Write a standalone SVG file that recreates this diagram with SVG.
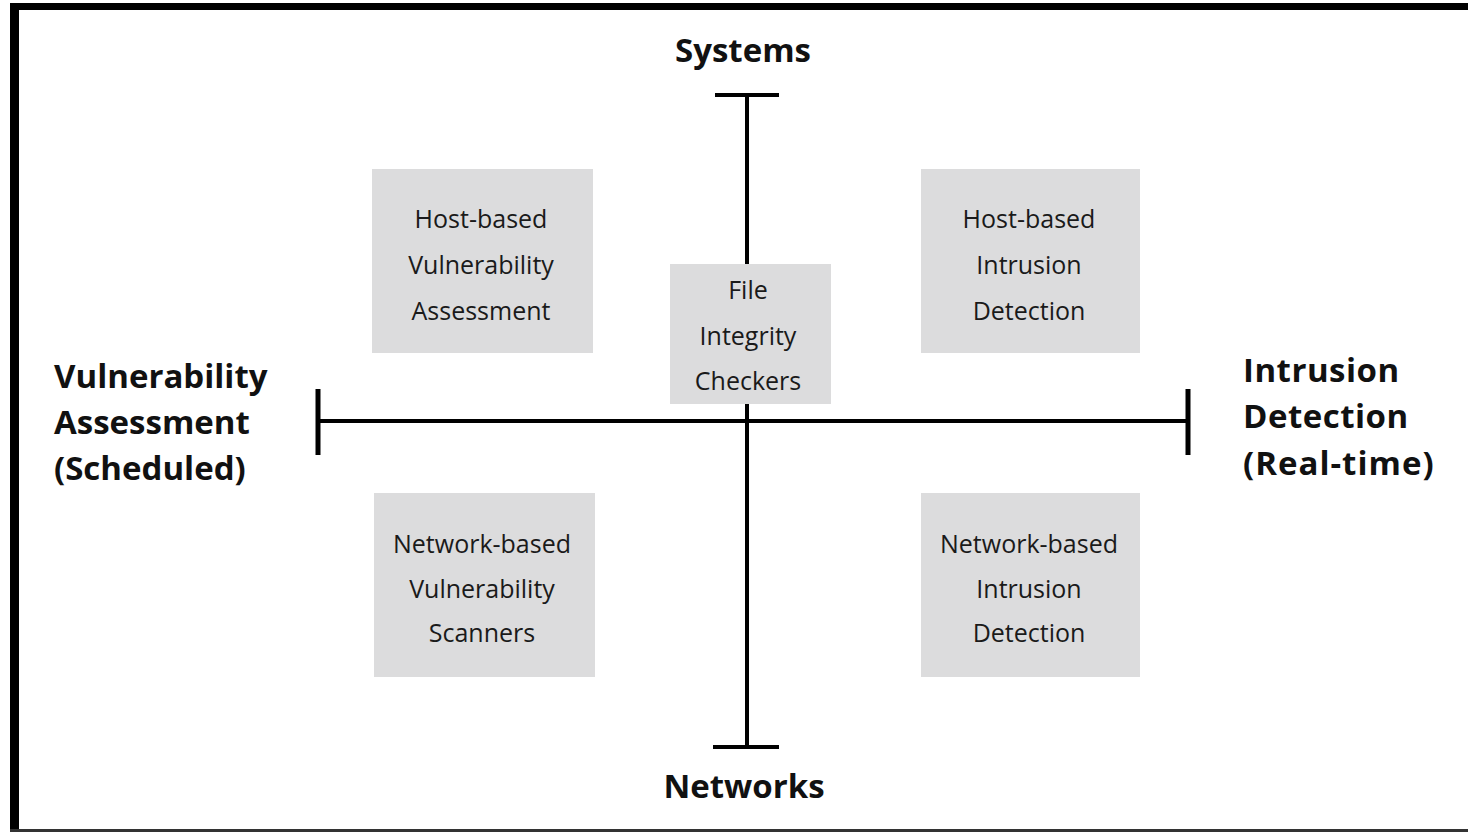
<svg xmlns="http://www.w3.org/2000/svg" width="1468" height="832" viewBox="0 0 1468 832">
<style>
.box{fill:#dcdcdd}
.t{font-family:"Open Sans","Noto Sans",sans-serif;font-size:25px;fill:#1a1a1a;text-anchor:middle}
.b{font-family:"Open Sans","Noto Sans",sans-serif;font-size:33px;font-weight:bold;fill:#111}
.ax{stroke:#000;stroke-width:4;fill:none}
</style>
<rect x="0" y="0" width="1468" height="832" fill="#fff"/>
<g id="frame">
<rect x="10" y="3" width="1458" height="7" fill="#000"/>
<rect x="10" y="3" width="9" height="829" fill="#000"/>
<rect x="10" y="829" width="1458" height="3" fill="#333"/>
</g>
<g id="connectors">
<line class="ax" x1="747" y1="95" x2="747" y2="747"/>
<line class="ax" x1="715" y1="95" x2="779" y2="95"/>
<line class="ax" x1="713" y1="747" x2="779" y2="747"/>
<line class="ax" x1="318" y1="421" x2="1188" y2="421"/>
<line class="ax" x1="318" y1="389" x2="318" y2="455" style="stroke-width:5"/>
<line class="ax" x1="1188" y1="389" x2="1188" y2="455" style="stroke-width:5"/>
</g>
<g id="hva">
<rect class="box" x="372" y="169" width="221" height="184"/>
<text class="t" x="481" y="228">Host-based</text>
<text class="t" x="481" y="274">Vulnerability</text>
<text class="t" x="481" y="320">Assessment</text>
</g>
<g id="hid">
<rect class="box" x="921" y="169" width="219" height="184"/>
<text class="t" x="1029" y="228">Host-based</text>
<text class="t" x="1029" y="274">Intrusion</text>
<text class="t" x="1029" y="320">Detection</text>
</g>
<g id="fic">
<rect class="box" x="670" y="264" width="161" height="140"/>
<text class="t" x="748" y="299">File</text>
<text class="t" x="748" y="345">Integrity</text>
<text class="t" x="748" y="390">Checkers</text>
</g>
<g id="nvs">
<rect class="box" x="374" y="493" width="221" height="184"/>
<text class="t" x="482" y="553">Network-based</text>
<text class="t" x="482" y="598">Vulnerability</text>
<text class="t" x="482" y="642">Scanners</text>
</g>
<g id="nid">
<rect class="box" x="921" y="493" width="219" height="184"/>
<text class="t" x="1029" y="553">Network-based</text>
<text class="t" x="1029" y="598">Intrusion</text>
<text class="t" x="1029" y="642">Detection</text>
</g>
<g id="systems"><text class="b" x="743" y="62" text-anchor="middle">Systems</text></g>
<g id="networks"><text class="b" x="744" y="798" text-anchor="middle">Networks</text></g>
<g id="va">
<text class="b" x="54" y="388">Vulnerability</text>
<text class="b" x="54" y="434">Assessment</text>
<text class="b" x="54" y="480">(Scheduled)</text>
</g>
<g id="id">
<text class="b" x="1243" y="382" letter-spacing="0.5">Intrusion</text>
<text class="b" x="1243" y="428" letter-spacing="0.5">Detection</text>
<text class="b" x="1243" y="475" letter-spacing="1">(Real-time)</text>
</g>
</svg>
